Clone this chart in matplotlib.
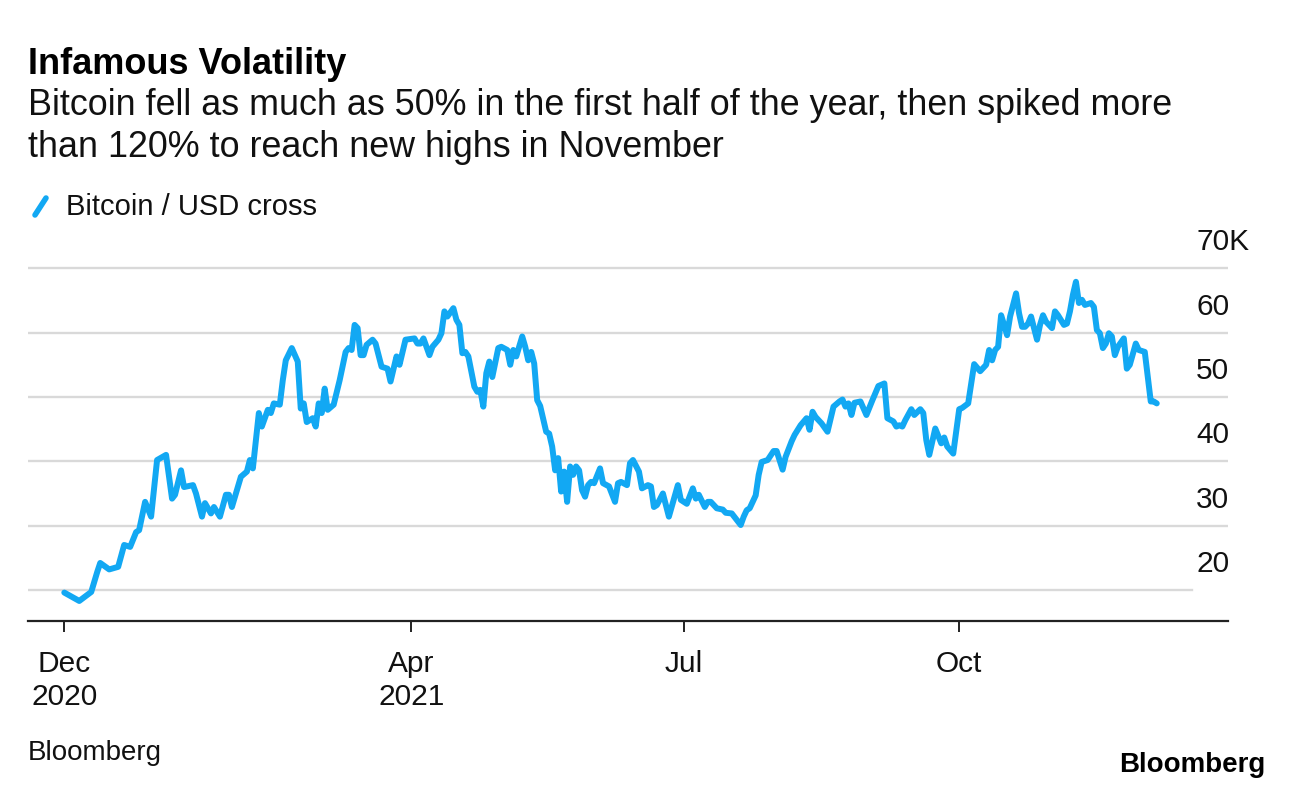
import matplotlib
matplotlib.use("Agg")
import matplotlib.pyplot as plt
import matplotlib.dates as mdates
from matplotlib.lines import Line2D
import pandas as pd

# ---------------- data ----------------
start_date = "2020-12-06"
day_offsets = [
    0, 5, 9, 11, 12, 15, 18, 20, 22, 24, 25, 27, 29, 31, 34, 36, 37, 39, 40, 43,
    44, 46, 47, 49, 50, 52, 54, 55, 56, 59, 61, 62, 63, 65, 66, 68, 69, 70, 72, 73,
    74, 76, 78, 79, 80, 81, 83, 84, 85, 86, 87, 88, 90, 92, 94, 95, 96, 97, 98, 99,
    100, 101, 103, 104, 106, 108, 109, 111, 112, 114, 117, 118, 119, 120, 122, 123, 125, 126, 127, 128,
    130, 131, 132, 133, 134, 135, 137, 138, 139, 140, 141, 142, 143, 145, 146, 148, 149, 150, 151, 153,
    154, 155, 156, 157, 158, 159, 161, 162, 163, 164, 165, 166, 167, 168, 169, 170, 171, 172, 173, 174,
    175, 176, 177, 179, 180, 182, 184, 185, 186, 188, 189, 190, 192, 193, 195, 196, 197, 198, 200, 202,
    205, 206, 208, 210, 211, 212, 214, 215, 216, 218, 220, 221, 223, 226, 227, 228, 229, 231, 232, 233,
    235, 237, 238, 240, 241, 243, 244, 246, 248, 249, 250, 251, 253, 255, 257, 259, 260, 261, 262, 263,
    264, 266, 268, 270, 271, 272, 274, 275, 277, 278, 279, 280, 281, 283, 284, 286, 287, 288, 289, 291,
    293, 294, 295, 297, 299, 300, 302, 304, 306, 308, 309, 310, 311, 312, 313, 314, 315, 316, 318, 319,
    320, 321, 322, 323, 325, 326, 327, 328, 330, 331, 332, 334, 335, 336, 337, 338, 339, 340, 341, 343,
    344, 345, 346, 347, 348, 349, 350, 351, 352, 354, 355, 356, 358, 359, 361, 363, 364, 365,
]
btc_usd_k = [
    19.6, 18.3, 19.7, 22.8, 24.2, 23.2, 23.6, 27.0, 26.7, 29.0, 29.3, 33.7, 31.4, 40.2, 41.0, 34.2, 34.8, 38.6, 36.0, 36.3,
    35.0, 31.4, 33.5, 31.9, 32.9, 31.4, 34.8, 34.8, 32.9, 37.6, 38.4, 40.2, 38.9, 47.5, 45.4, 48.0, 47.5, 49.0, 48.8, 52.6,
    55.7, 57.6, 55.5, 48.2, 49.0, 46.1, 46.7, 45.4, 49.0, 47.5, 51.3, 48.0, 48.8, 52.6, 57.0, 57.6, 57.3, 61.2, 60.7, 56.5,
    56.5, 58.1, 58.9, 58.3, 54.7, 54.4, 52.4, 56.3, 55.0, 58.9, 59.1, 58.3, 58.3, 59.1, 56.5, 57.8, 58.9, 59.9, 63.3, 62.5,
    63.8, 62.0, 61.2, 56.8, 57.0, 56.3, 51.6, 50.8, 51.1, 48.5, 53.7, 55.5, 53.1, 57.6, 57.8, 57.3, 55.0, 57.3, 56.3, 59.4,
    57.8, 55.7, 57.0, 55.2, 49.5, 48.6, 44.6, 44.3, 42.3, 38.6, 40.5, 35.3, 38.4, 33.7, 39.2, 37.9, 39.2, 38.6, 35.5, 34.5,
    36.3, 36.8, 36.6, 38.9, 36.6, 36.1, 33.7, 36.6, 36.8, 36.3, 39.7, 40.2, 38.4, 35.8, 36.3, 36.1, 32.9, 33.2, 35.0, 31.4,
    36.3, 34.0, 33.4, 35.8, 34.2, 34.8, 32.9, 33.7, 33.7, 32.7, 32.5, 32.0, 31.9, 30.1, 31.4, 32.4, 32.7, 34.7, 37.9, 39.9,
    40.2, 41.6, 41.6, 38.7, 40.7, 43.1, 44.1, 45.6, 46.7, 44.9, 47.7, 46.9, 45.9, 44.6, 48.5, 49.3, 49.6, 48.5, 49.0, 47.2,
    49.1, 49.3, 47.2, 49.5, 50.6, 51.7, 52.1, 46.7, 46.2, 45.4, 45.6, 45.4, 46.4, 48.1, 47.2, 48.1, 47.5, 43.3, 41.0, 45.1,
    42.8, 43.7, 42.3, 41.2, 48.1, 48.3, 49.0, 55.1, 54.0, 55.0, 57.3, 55.7, 57.3, 57.8, 62.7, 61.2, 59.6, 62.5, 66.1, 63.0,
    60.9, 60.9, 61.4, 62.5, 58.9, 61.2, 62.7, 61.7, 60.7, 63.3, 62.7, 61.2, 61.4, 63.3, 65.9, 67.9, 64.6, 65.1, 64.3, 64.6,
    64.0, 60.4, 59.9, 57.6, 58.3, 59.9, 59.4, 56.5, 57.8, 59.1, 54.4, 55.0, 58.3, 57.3, 57.0, 49.3, 49.3, 49.0,
]
y_ticks = [20, 30, 40, 50, 60, 70]
y_tick_labels = ["20", "30", "40", "50", "60", "70K"]
x_tick_dates = ["2020-12-06", "2021-04-01", "2021-07-01", "2021-10-01"]
x_tick_labels = ["Dec\n2020", "Apr\n2021", "Jul", "Oct"]

title = "Infamous Volatility"
subtitle_lines = ["Bitcoin fell as much as 50% in the first half of the year, then spiked more",
                  "than 120% to reach new highs in November"]
series_name = "Bitcoin / USD cross"
source = "Bloomberg"

# ---------------- styling ----------------
FONT = "Liberation Sans"
BLUE = "#12A8F3"
GRID = "#d9d9d9"
TXT = "#111111"
W_PX, H_PX = 1292, 790

plt.rcParams["font.family"] = [FONT, "DejaVu Sans"]

start = pd.Timestamp(start_date)
dates = start + pd.to_timedelta(day_offsets, unit="D")

fig = plt.figure(figsize=(W_PX / 100, H_PX / 100), dpi=100)
fig.patch.set_facecolor("white")

# axes spans x 28..1228 px, y 255..621 px
ax_left, ax_right = 28, 1228
ax_top, ax_bot = 255.4, 620.7
ax = fig.add_axes([ax_left / W_PX, 1 - ax_bot / H_PX,
                   (ax_right - ax_left) / W_PX, (ax_bot - ax_top) / H_PX])

px_per_day = 2.993
x0_px = 64.3
t0 = mdates.date2num(start)
ax.set_xlim(t0 - (x0_px - ax_left) / px_per_day,
            t0 + (ax_right - x0_px) / px_per_day)
ax.set_ylim(15.23, 72.0)

for v in y_ticks:
    ax.axhline(v, xmin=0, xmax=(0.97 if v == 20 else 1.0), color=GRID, lw=1.7, zorder=1)

ax.plot(dates, btc_usd_k, color=BLUE, lw=4.3, solid_joinstyle="round",
        solid_capstyle="round", zorder=3, clip_on=False)

for s in ["top", "left", "right"]:
    ax.spines[s].set_visible(False)
ax.spines["bottom"].set_color("#222222")
ax.spines["bottom"].set_linewidth(1.6)
ax.set_yticks([])

ax.set_xticks([mdates.date2num(pd.Timestamp(d)) for d in x_tick_dates])
ax.set_xticklabels(x_tick_labels, fontsize=21.5, color=TXT, linespacing=1.22,
                   multialignment="center")
ax.tick_params(axis="x", length=8, width=1.4, color="#222222", pad=13, direction="out")

ytrans = ax.get_yaxis_transform()
lab_x = (1196 - ax_left) / (ax_right - ax_left)
for v, lab in zip(y_ticks, y_tick_labels):
    ax.text(lab_x, v + 18 / 6.434, lab, transform=ytrans, fontsize=21.5, color=TXT,
            ha="left", va="baseline")

# titles
fig.text(28 / W_PX, 1 - 74 / H_PX, title, fontsize=26, fontweight="bold",
         color="#000000", ha="left", va="baseline")
for i, line in enumerate(subtitle_lines):
    fig.text(28 / W_PX, 1 - (115 + 42 * i) / H_PX, line, fontsize=25.8, color=TXT,
             ha="left", va="baseline")

# legend
fig.add_artist(Line2D([35 / W_PX, 46 / W_PX], [1 - 215 / H_PX, 1 - 198 / H_PX],
                      color=BLUE, lw=4, solid_capstyle="round"))
fig.text(66 / W_PX, 1 - 215 / H_PX, series_name, fontsize=21, color=TXT,
         ha="left", va="baseline")

# footer
fig.text(28 / W_PX, 1 - 760 / H_PX, source, fontsize=20, color=TXT,
         ha="left", va="baseline")
fig.text(1265 / W_PX, 1 - 772 / H_PX, "Bloomberg", fontsize=20, fontweight="bold",
         color="#000000", ha="right", va="baseline")

fig.savefig("out.png", dpi=100, facecolor="white")
